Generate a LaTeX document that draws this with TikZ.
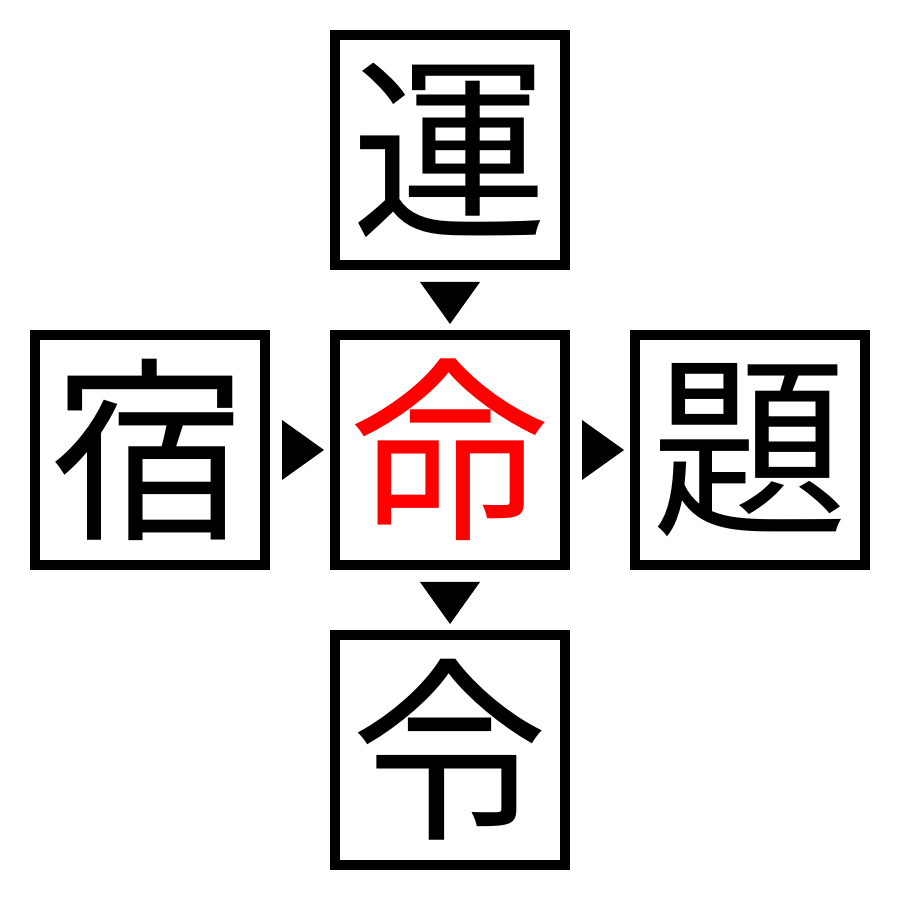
\documentclass[tikz,border=0pt]{standalone}
\usepackage{fontspec}
\newfontfamily\cjk{Noto Sans CJK JP}
\usetikzlibrary{calc}
\tikzset{
  kbox/.style={draw=black, line width=1mm, minimum size=2.3cm, inner sep=0pt, font=\cjk\fontsize{56}{60}\selectfont},
  marker/.style={fill=black}
}
\begin{document}
\begin{tikzpicture}
\useasboundingbox (0,0) rectangle (9,9);
\node[kbox] (c) at (4.5,4.5) {\textcolor{red}{命}};
\node[kbox] (t) at (4.5,7.5) {運};
\node[kbox] (b) at (4.5,1.5) {令};
\node[kbox] (l) at (1.5,4.5) {宿};
\node[kbox] (r) at (7.5,4.5) {題};
% top -> center
\fill[marker] ($(t.south)+(-0.3,-0.12)$) -- ($(t.south)+(0.3,-0.12)$) -- ($(c.north)+(0,0.06)$) -- cycle;
% center -> bottom
\fill[marker] ($(c.south)+(-0.3,-0.12)$) -- ($(c.south)+(0.3,-0.12)$) -- ($(b.north)+(0,0.06)$) -- cycle;
% left -> center
\fill[marker] ($(l.east)+(0.12,0.3)$) -- ($(l.east)+(0.12,-0.3)$) -- ($(c.west)+(-0.06,0)$) -- cycle;
% center -> right
\fill[marker] ($(c.east)+(0.12,0.3)$) -- ($(c.east)+(0.12,-0.3)$) -- ($(r.west)+(-0.06,0)$) -- cycle;
\end{tikzpicture}
\end{document}
